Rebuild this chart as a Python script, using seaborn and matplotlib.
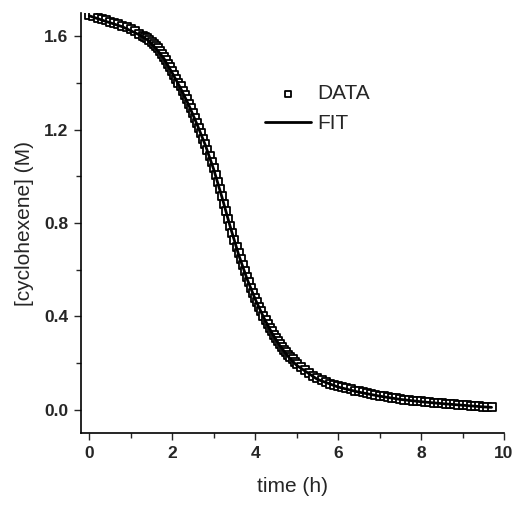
import numpy as np
import pandas as pd
import seaborn as sns
import matplotlib.pyplot as plt
from matplotlib.ticker import MultipleLocator, FormatStrFormatter

sns.set_style('ticks')
plt.rcParams['font.family'] = ['Liberation Sans', 'DejaVu Sans']

# measured points (time in h, concentration in M)
time_h = [
    0.0, 0.1, 0.2, 0.3, 0.4, 0.5, 0.6, 0.7, 0.8, 0.9, 1.0, 1.1, 1.2, 1.3,
    1.35, 1.40, 1.45, 1.50, 1.55, 1.60, 1.65, 1.70, 1.75, 1.80,
    1.85, 1.90, 1.95, 2.00, 2.05, 2.10, 2.15, 2.20, 2.25, 2.30,
    2.35, 2.40, 2.45, 2.50, 2.55, 2.60, 2.65, 2.70, 2.75, 2.80,
    2.85, 2.90, 2.95, 3.00, 3.05, 3.10, 3.15, 3.20, 3.25, 3.30,
    3.35, 3.40, 3.45, 3.50, 3.55, 3.60, 3.65, 3.70, 3.75, 3.80,
    3.85, 3.90, 3.95, 4.00, 4.05, 4.10, 4.15, 4.20, 4.25, 4.30,
    4.35, 4.40, 4.45, 4.50, 4.55, 4.60, 4.65, 4.70, 4.75, 4.80,
    4.85, 4.90, 4.95, 5.00,
    5.1, 5.2, 5.3, 5.4, 5.5, 5.6, 5.7, 5.8, 5.9, 6.0,
    6.1, 6.2, 6.3, 6.4, 6.5, 6.6, 6.7, 6.8, 6.9, 7.0,
    7.1, 7.2, 7.3, 7.4, 7.5, 7.6, 7.7, 7.8, 7.9, 8.0,
    8.1, 8.2, 8.3, 8.4, 8.5, 8.6, 8.7, 8.8, 8.9, 9.0,
    9.1, 9.2, 9.3, 9.4, 9.5, 9.6, 9.7,
]
conc = [
    1.690, 1.685, 1.679, 1.673, 1.668, 1.662, 1.656, 1.651, 1.645, 1.639, 1.633, 1.623, 1.612, 1.602,
    1.597, 1.592, 1.585, 1.576, 1.568, 1.559, 1.549, 1.538, 1.526, 1.513,
    1.498, 1.483, 1.467, 1.451, 1.435, 1.419, 1.402, 1.385, 1.367, 1.349,
    1.330, 1.311, 1.291, 1.271, 1.250, 1.229, 1.207, 1.185, 1.162, 1.139,
    1.114, 1.089, 1.063, 1.036, 1.007, 0.977, 0.946, 0.915, 0.883, 0.851,
    0.819, 0.788, 0.758, 0.728, 0.699, 0.671, 0.644, 0.618, 0.593, 0.569,
    0.546, 0.523, 0.501, 0.480, 0.460, 0.440, 0.421, 0.402, 0.385, 0.368,
    0.352, 0.336, 0.321, 0.307, 0.293, 0.280, 0.268, 0.256, 0.245, 0.234,
    0.224, 0.215, 0.206, 0.197,
    0.182, 0.169, 0.157, 0.145, 0.134, 0.126, 0.119, 0.112, 0.106, 0.100,
    0.096, 0.091, 0.087, 0.082, 0.078, 0.074, 0.071, 0.067, 0.064, 0.060,
    0.057, 0.054, 0.051, 0.048, 0.045, 0.043, 0.041, 0.039, 0.037, 0.035,
    0.033, 0.032, 0.030, 0.029, 0.027, 0.026, 0.024, 0.023, 0.021, 0.020,
    0.019, 0.017, 0.016, 0.014, 0.013, 0.012, 0.011,
]

# fitted curve
fit_t = [0, 0.4, 0.8, 1.2, 1.4, 1.6, 1.8, 2.0, 2.2, 2.4, 2.6, 2.8, 3.0, 3.2, 3.4, 3.6,
         3.8, 4.0, 4.2, 4.4, 4.6, 4.8, 5.0, 5.5, 6.0, 6.5, 7.0, 7.5, 8.0, 8.5, 9.0, 9.5, 9.7]
fit_c = [1.688, 1.664, 1.641, 1.607, 1.585, 1.550, 1.505, 1.443, 1.378, 1.305, 1.222,
         1.133, 1.030, 0.910, 0.783, 0.665, 0.562, 0.474, 0.397, 0.330, 0.273, 0.227,
         0.190, 0.130, 0.097, 0.075, 0.058, 0.044, 0.034, 0.026, 0.019, 0.012, 0.010]

data = pd.DataFrame({'t': time_h, 'c': conc})
fit = pd.DataFrame({'t': fit_t, 'c': fit_c})

fig = plt.figure(figsize=(5.14, 5.15), dpi=100)
ax = fig.add_axes([81 / 514, 82 / 515, 423 / 514, 420 / 515])

sns.scatterplot(data=data, x='t', y='c', ax=ax, marker='s', s=28,
                facecolor='white', edgecolor='black', linewidth=1.3,
                label='DATA', zorder=2)
sns.lineplot(data=fit, x='t', y='c', ax=ax, color='black', linewidth=2.0,
             label='FIT', zorder=3)

ax.set_xlim(-0.2, 10)
ax.set_ylim(-0.1, 1.7)
ax.xaxis.set_major_locator(MultipleLocator(2))
ax.xaxis.set_minor_locator(MultipleLocator(1))
ax.yaxis.set_major_locator(MultipleLocator(0.4))
ax.yaxis.set_minor_locator(MultipleLocator(0.2))
ax.yaxis.set_major_formatter(FormatStrFormatter('%.1f'))
ax.tick_params(which='major', direction='out', length=5, width=1, labelsize=12.5, pad=4)
ax.tick_params(which='minor', direction='out', length=3.5, width=1)
for lab in ax.get_xticklabels() + ax.get_yticklabels():
    lab.set_fontweight('bold')

sns.despine(ax=ax)
for sp in ['left', 'bottom']:
    ax.spines[sp].set_linewidth(1.2)
    ax.spines[sp].set_color('black')

ax.set_xlabel('time (h)', fontsize=15, labelpad=12)
ax.set_ylabel('[cyclohexene] (M)', fontsize=15, labelpad=7)

ax.legend(loc='upper left', bbox_to_anchor=(0.435, 0.830), frameon=False,
          fontsize=15, handlelength=2.2, handletextpad=0.33, labelspacing=0.5,
          borderpad=0, borderaxespad=0, markerscale=0.8)

fig.savefig('out.png', dpi=100)
